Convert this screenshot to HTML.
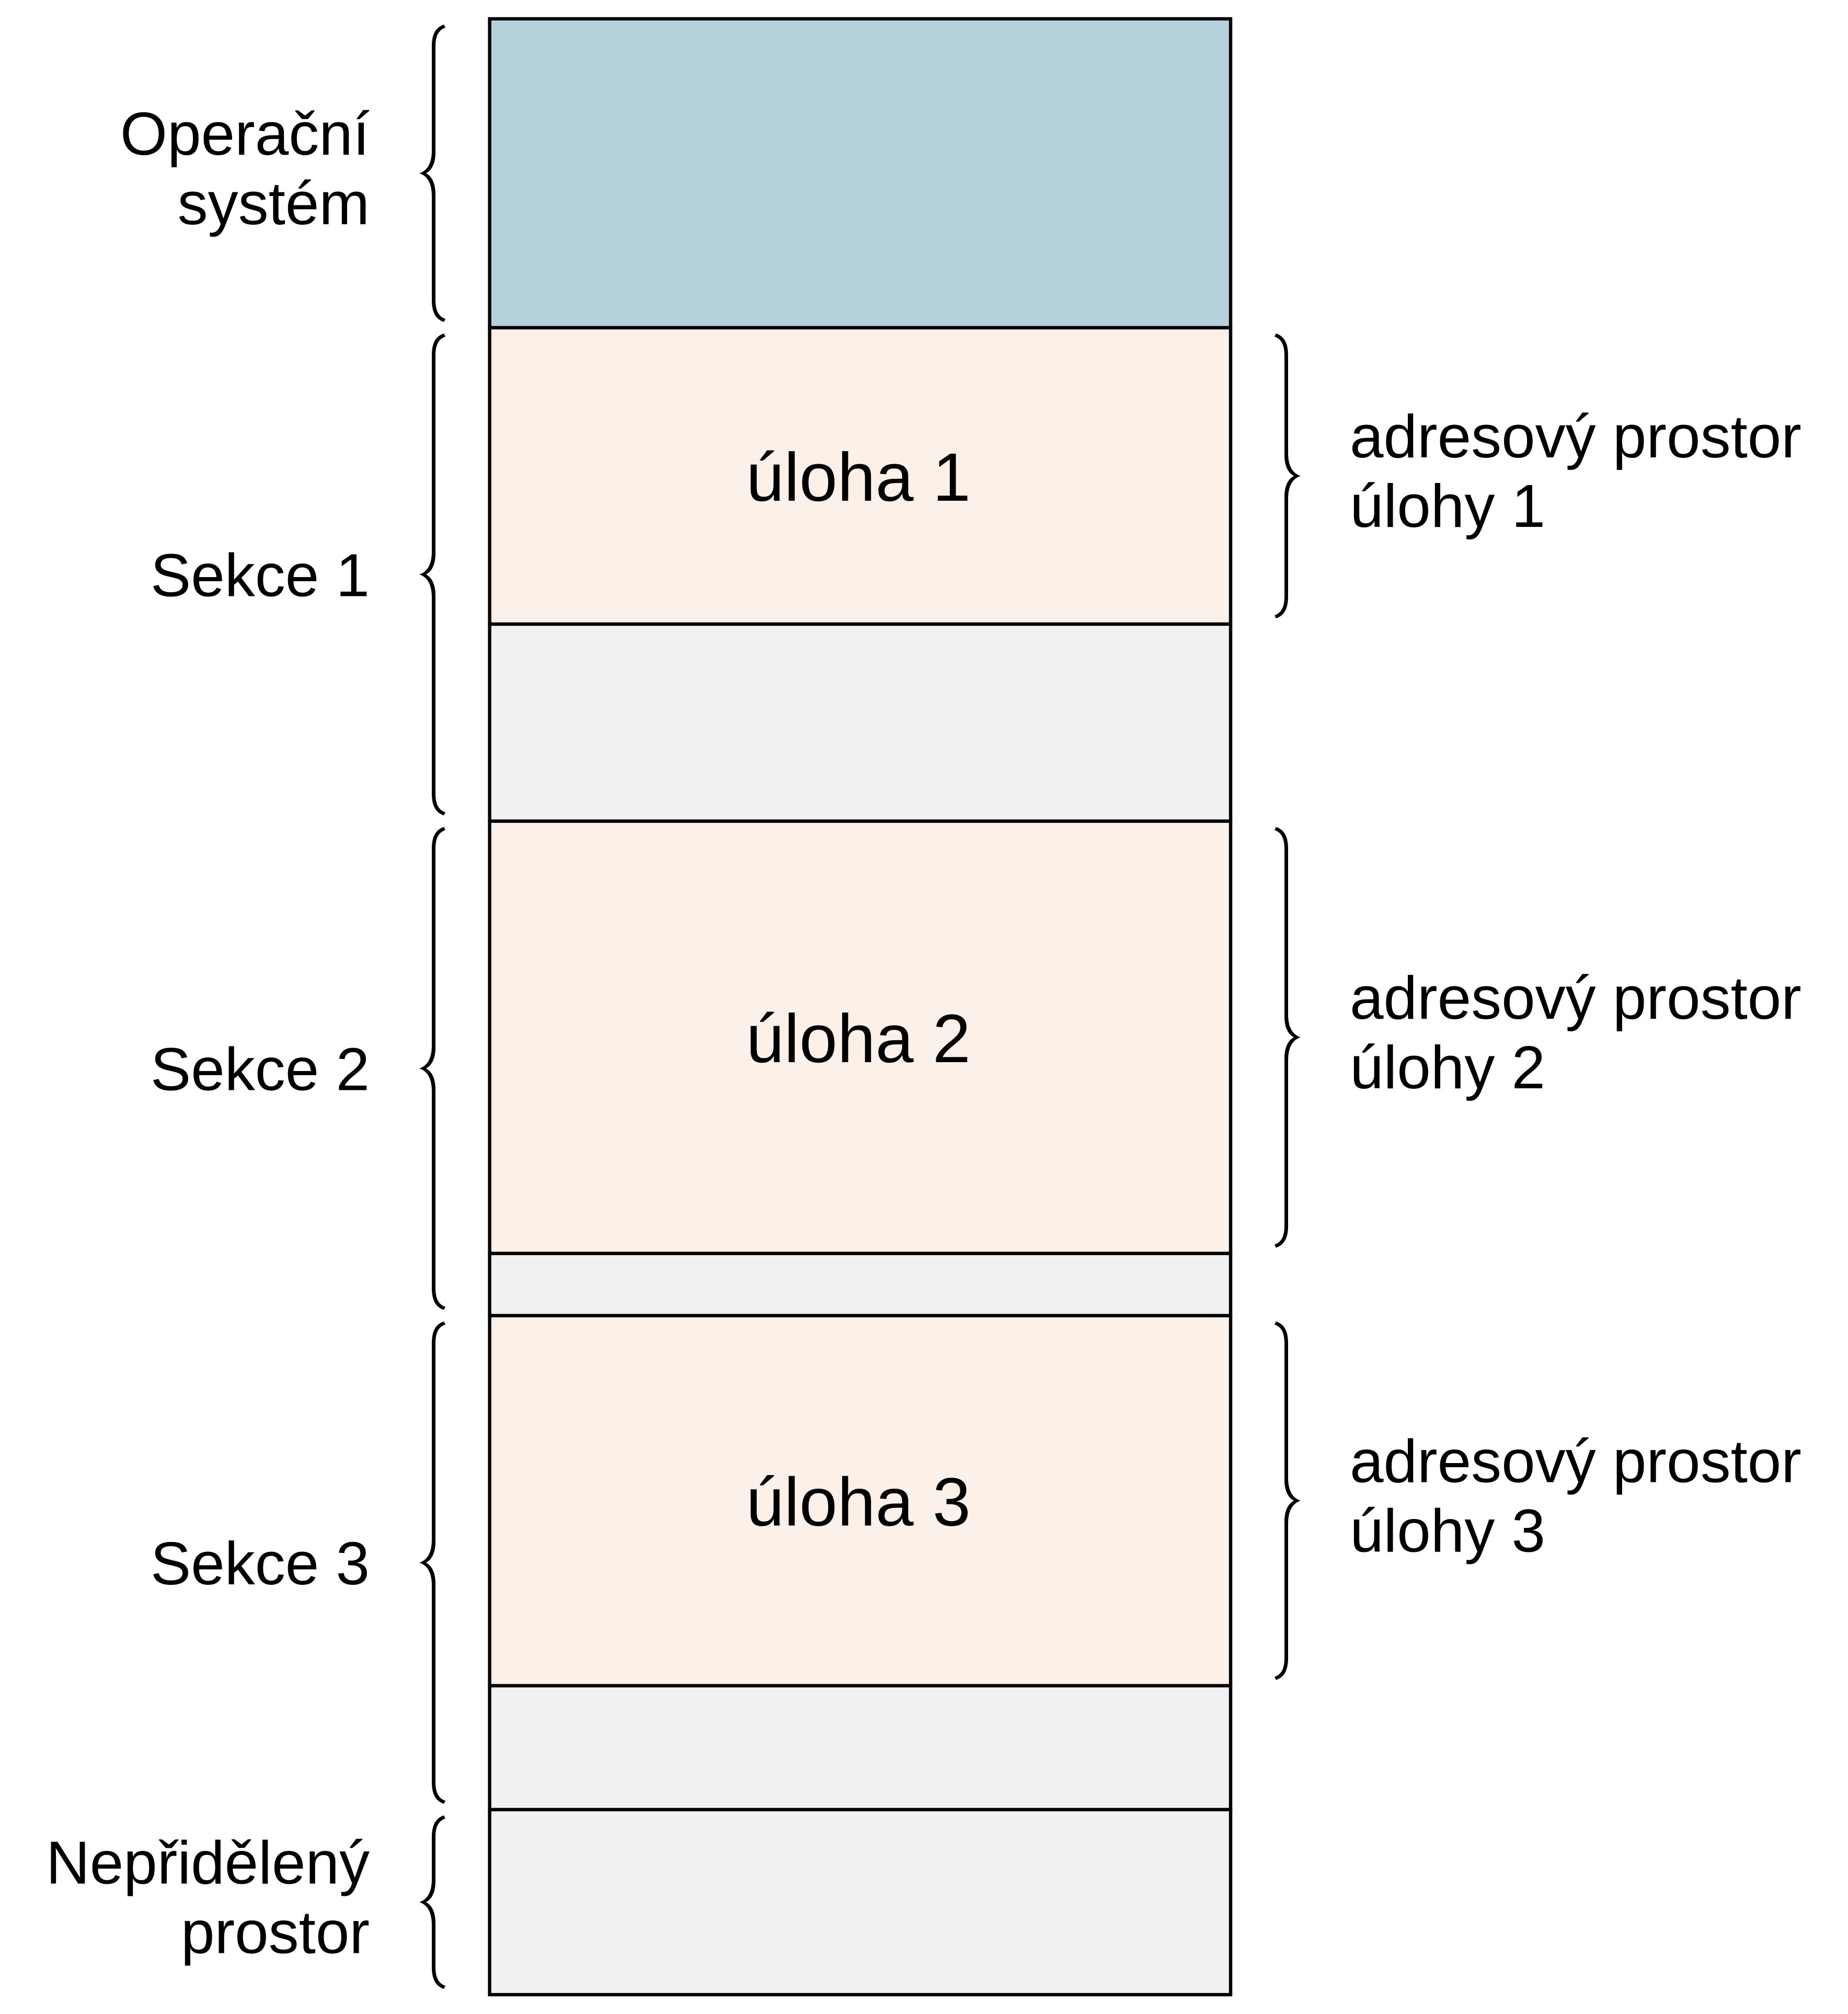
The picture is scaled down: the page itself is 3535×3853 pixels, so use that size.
<!DOCTYPE html>
<html lang="cs">
<head>
<meta charset="utf-8">
<title>Rozdělení paměti na sekce</title>
<style>
html,body{margin:0;padding:0;background:#fff;}
svg{display:block;}
text{font-family:"Liberation Sans",Arial,sans-serif;fill:#000;}
</style>
</head>
<body>
<svg id="chart" xmlns="http://www.w3.org/2000/svg" width="3535" height="3853" viewBox="0 0 3535 3853"></svg>
<script>
// Memory blocks, top to bottom: kind and size
const segmentKinds = ['os','task','free','task','free','task','free','free'];
const segmentSizes = [591,567,377,827,119,708,237,354];
const taskLabels = ['úloha 1','úloha 2','úloha 3'];
// Left braces: first and last block covered, and label lines
const sectionFirst = [0,1,3,5,7];
const sectionLast = [0,2,4,6,7];
const sectionLines = [['Operační','systém'],['Sekce 1'],['Sekce 2'],['Sekce 3'],['Nepřidělený','prostor']];
// Right braces: task block covered, and label lines
const addressSpaceBlock = [1,3,5];
const addressSpaceLines = [['adresový prostor','úlohy 1'],['adresový prostor','úlohy 2'],['adresový prostor','úlohy 3']];

const NS = 'http://www.w3.org/2000/svg';
const svg = document.getElementById('chart');
const colors = {os:'#b5d2dc',task:'#fbf1e9',free:'#f1f1f1'};
const boxLeft = 936.6, boxRight = 2354, top0 = 36;

const starts = [];
let acc = 0;
for (const s of segmentSizes) { starts.push(acc); acc += s; }
function yScale(v){ return top0 + v; }

function make(tag, attrs, parent){
  const el = document.createElementNS(NS, tag);
  for (const k in attrs) el.setAttribute(k, attrs[k]);
  (parent || svg).appendChild(el);
  return el;
}

function bracePath(y0, y1, m){
  // m maps a left-brace x to the actual x (mirrors for the right side)
  const ym = (y0 + y1) / 2;
  const L = m(826), R = m(833), T = m(802), N = m(815), E = m(849), F = m(852);
  const a = m(835), b = m(840), c = m(818), d = m(826.5);
  return `M${E} ${y0}C${a} ${y0+5} ${L} ${y0+16} ${L} ${y0+42}` +
    `L${L} ${ym-44}C${L} ${ym-20} ${c} ${ym-5} ${T} ${ym}` +
    `C${c} ${ym+5} ${L} ${ym+20} ${L} ${ym+44}` +
    `L${L} ${y1-42}C${L} ${y1-16} ${a} ${y1-5} ${E} ${y1}` +
    `L${F} ${y1-6}C${b} ${y1-10} ${R} ${y1-20} ${R} ${y1-42}` +
    `L${R} ${ym+40}C${R} ${ym+20} ${d} ${ym+6} ${N} ${ym}` +
    `C${d} ${ym-6} ${R} ${ym-20} ${R} ${ym-40}` +
    `L${R} ${y0+42}C${R} ${y0+20} ${b} ${y0+10} ${F} ${y0+6}Z`;
}

// Blocks
segmentSizes.forEach(function(size, i){
  const kind = segmentKinds[i];
  const r = make('rect', {x:boxLeft, y:yScale(starts[i]), width:boxRight-boxLeft, height:size,
    fill:colors[kind], stroke:'#000', 'stroke-width':6.4});
  
  
});

// Task labels
let taskIndex = 0;
segmentKinds.forEach(function(kind, i){
  if (kind !== 'task') return;
  const mid = yScale(starts[i] + segmentSizes[i] / 2);
  const t = make('text', {x:1427, y:mid + 47.5, 'font-size':131});
  t.textContent = taskLabels[taskIndex];
  
  
  taskIndex++;
});

function lineOffsets(n){ return n === 1 ? [41.5] : [-35.5, 97.5]; }

// Left braces and section labels
sectionFirst.forEach(function(first, i){
  const y0 = yScale(starts[first]) + 11;
  const y1 = yScale(starts[sectionLast[i]] + segmentSizes[sectionLast[i]]) - 11;
  const b = make('path', {d:bracePath(y0, y1, function(x){ return x; }), fill:'#000'});
  
  
  const tip = (y0 + y1) / 2;
  const offs = lineOffsets(sectionLines[i].length);
  sectionLines[i].forEach(function(line, j){
    const t = make('text', {x:707, y:tip + offs[j], 'font-size':116, 'text-anchor':'end'});
    t.textContent = line;
    
    
  });
});

// Right braces and address-space labels
addressSpaceBlock.forEach(function(block, i){
  const y0 = yScale(starts[block]) + 11;
  const y1 = yScale(starts[block] + segmentSizes[block]) - 11;
  const b = make('path', {d:bracePath(y0, y1, function(x){ return 3290 - x; }), fill:'#000'});
  
  
  const tip = (y0 + y1) / 2;
  const offs = lineOffsets(addressSpaceLines[i].length);
  addressSpaceLines[i].forEach(function(line, j){
    const t = make('text', {x:2582, y:tip + offs[j], 'font-size':116});
    t.textContent = line;
    
    
  });
});
</script>
</body>
</html>
